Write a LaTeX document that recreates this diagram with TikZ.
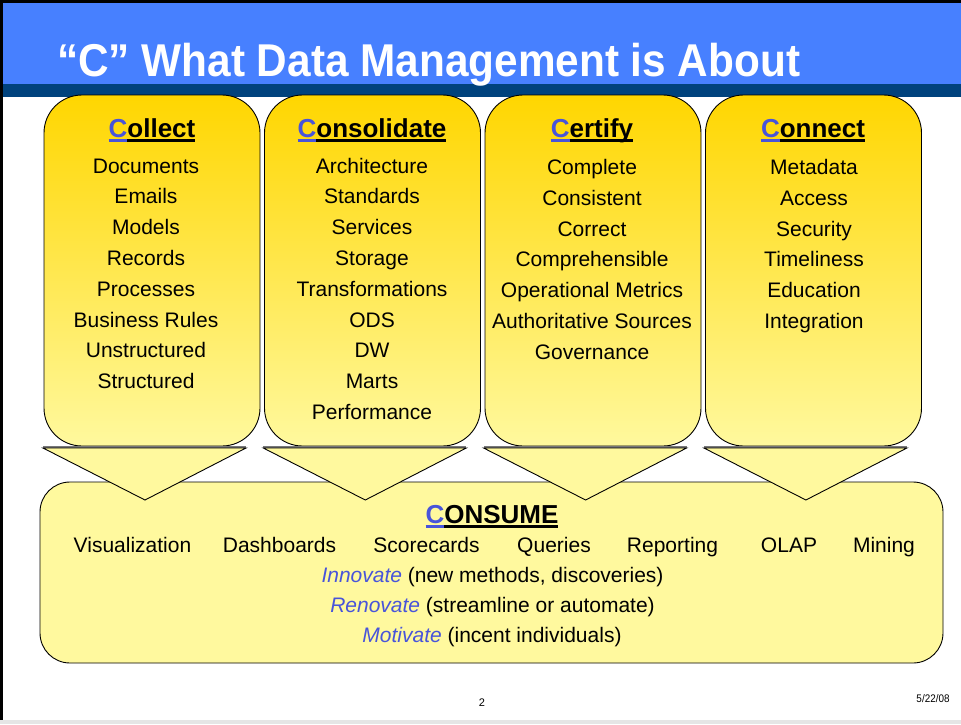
\documentclass[tikz,border=0pt]{standalone}
\usepackage{fontspec}
\setmainfont{Liberation Sans}
\definecolor{barblue}{RGB}{71,128,255}
\definecolor{barnavy}{RGB}{0,66,125}
\definecolor{gold}{RGB}{255,214,0}
\definecolor{pale}{RGB}{255,249,158}
\definecolor{cblue}{RGB}{72,84,218}
\definecolor{shadowgray}{RGB}{120,120,120}
\newcommand{\ulpart}[2]{\sbox0{#2}\rlap{{\color{#1}\rule[-4.6pt]{\wd0}{2.3pt}}}\usebox0}
\newcommand{\chead}[1]{\ulpart{cblue}{{\color{cblue}C}}\ulpart{black}{#1}}
\tikzset{
  colbox/.style={draw=black, line width=0.9pt, rounded corners=38pt, top color=gold, bottom color=pale,
    minimum width=216pt, minimum height=351pt, inner sep=0pt},
  consbox/.style={draw=black, line width=0.9pt, rounded corners=30pt, fill=pale,
    minimum width=903pt, minimum height=181pt, inner sep=0pt},
  chevron/.style={draw=black, line width=0.9pt, fill=pale, line join=miter},
  head/.style={anchor=base, inner sep=0pt, font=\fontsize{26}{30}\selectfont\bfseries},
  item/.style={anchor=base, inner sep=0pt, font=\fontsize{21}{25}\selectfont},
  foot/.style={anchor=base, inner sep=0pt, font=\fontsize{11}{13}\selectfont},
}
\begin{document}
\begin{tikzpicture}[x=1pt,y=-1pt]
\useasboundingbox (0,0) rectangle (961,724);
\fill[white] (0,0) rectangle (961,724);
% frame and title bar
\fill[black] (0,0) rectangle (961,3);
\fill[black] (0,0) rectangle (3,720);
\fill[black!10] (0,720) rectangle (961,724);
\fill[barblue] (3,3) rectangle (961,84);
\fill[barnavy] (3,84) rectangle (961,97);
\node[anchor=base west, inner sep=0pt, text=white, font=\fontsize{46}{50}\selectfont\bfseries] (title) at (57,76)
  {\scalebox{0.92}[1]{“C” What Data Management is About}};
% column boxes
\foreach \i/\n in {0/A,1/B,2/C,3/D}{
  \node[colbox] (box\n) at ({152+220.5*\i},270.5) {};
}
% consume box
\node[consbox] (consume) at (491.5,572.5) {};
% chevrons
\foreach \i/\n in {0/A,1/B,2/C,3/D}{
  \fill[shadowgray] ({43+220.3*\i},446.2) rectangle +(203,1.8);
  \draw[chevron] ({43+220.3*\i},448) -- ++(203,0) -- ++(-101,52) -- cycle;
}
% headings
\node[head] (hA) at (152,137) {\chead{ollect}};
\node[head] (hB) at (372,137) {\chead{onsolidate}};
\node[head] (hC) at (592,137) {\chead{ertify}};
\node[head] (hD) at (813,137) {\chead{onnect}};
% items
\foreach \t [count=\k] in {Documents,Emails,Models,Records,Processes,Business Rules,Unstructured,Structured}
  \node[item] (a\k) at (146,{173+30.8*(\k-1)}) {\t};
\foreach \t [count=\k] in {Architecture,Standards,Services,Storage,Transformations,ODS,DW,Marts,Performance}
  \node[item] (b\k) at (372,{173+30.8*(\k-1)}) {\t};
\foreach \t [count=\k] in {Complete,Consistent,Correct,Comprehensible,Operational Metrics,Authoritative Sources,Governance}
  \node[item] (c\k) at (592,{174.5+30.8*(\k-1)}) {\t};
\foreach \t [count=\k] in {Metadata,Access,Security,Timeliness,Education,Integration}
  \node[item] (d\k) at (814,{174.5+30.8*(\k-1)}) {\t};
% consume text
\node[head] (hE) at (492,523) {\ulpart{cblue}{{\color{cblue}C}}\ulpart{black}{ONSUME}};
\foreach \t/\x [count=\k] in {Visualization/132.5,Dashboards/279.5,Scorecards/426.5,Queries/554,Reporting/672.5,OLAP/789,Mining/884}
  \node[item] (e\k) at (\x,552) {\t};
\node[item] (inn) at (492.5,582) {{\color{cblue}\itshape Innovate} (new methods, discoveries)};
\node[item] (ren) at (492.5,612) {{\color{cblue}\itshape Renovate} (streamline or automate)};
\node[item] (mot) at (492,642) {{\color{cblue}\itshape Motivate} (incent individuals)};
% footer
\node[foot] (pg) at (482,706) {2};
\node[foot] (dt) at (933,702) {\scalebox{0.9}[1]{5/22/08}};
\end{tikzpicture}
\end{document}
